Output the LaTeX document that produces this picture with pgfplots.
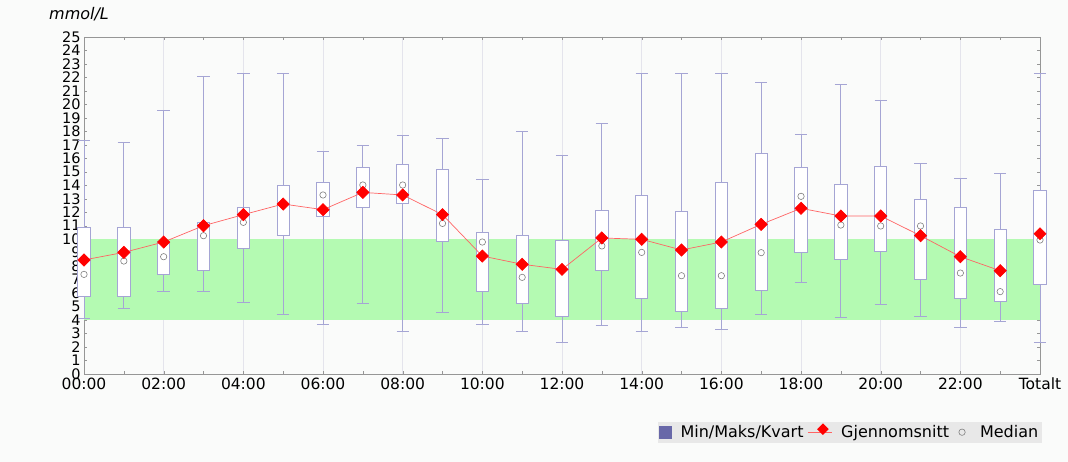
\documentclass[border=0pt]{standalone}
\usepackage{fontspec}
\setmainfont{DejaVu Sans}[ItalicFont={DejaVu Sans Oblique}]
\usepackage{pgfplots}
\pgfplotsset{compat=1.18}
\usepgfplotslibrary{statistics}
\definecolor{boxc}{RGB}{165,165,212}
\definecolor{legsq}{RGB}{104,104,168}
\definecolor{band}{RGB}{180,250,178}
\definecolor{bg}{RGB}{250,251,250}
\definecolor{legbg}{RGB}{232,232,232}
\definecolor{gridc}{RGB}{228,228,236}
\definecolor{axc}{RGB}{150,150,150}
\definecolor{meanline}{RGB}{255,100,100}

\pgfplotstableread{
h mean med
0 8.46 7.39
1 9.02 8.38
2 9.79 8.70
3 11.00 10.26
4 11.82 11.25
5 12.61 12.51
6 12.19 13.28
7 13.47 14.02
8 13.28 14.02
9 11.82 11.17
10 8.75 9.79
11 8.14 7.17
12 7.76 7.80
13 10.09 9.50
14 9.99 9.02
15 9.20 7.29
16 9.79 7.29
17 11.10 9.00
18 12.29 13.18
19 11.72 11.05
20 11.72 10.98
21 10.26 10.98
22 8.70 7.49
23 7.66 6.11
}\hourly
\pgfplotstableread{
h mean med
24 10.41 9.94
}\total

\begin{document}
\begin{tikzpicture}[x=1bp,y=1bp]
\fill[bg] (0,0) rectangle (1068,462);
\node[anchor=base west, font=\fontsize{16bp}{16bp}\selectfont\itshape, inner sep=0] at (49,442) {mmol/L};
\begin{axis}[
  at={(84bp,88bp)}, anchor=south west,
  scale only axis, width=956bp, height=337bp,
  xmin=0, xmax=24, ymin=0, ymax=25,
  clip=false,
  axis line style={axc},
  xtick={0,2,...,24},
  xticklabels={00:00,02:00,04:00,06:00,08:00,10:00,12:00,14:00,16:00,18:00,20:00,22:00,Totalt},
  minor xtick={1,3,...,23},
  ytick={0,1,...,25},
  tick align=inside,
  major tick length=3bp, minor tick length=3bp,
  tick style={axc},
  xmajorgrids, major x grid style={gridc, line width=0.6bp},
  xticklabel style={font=\fontsize{15.5bp}{15.5bp}\selectfont},
  yticklabel style={font=\fontsize{14.5bp}{14.5bp}\selectfont},
  /pgf/number format/assume math mode=true,
  boxplot/draw direction=y,
  boxplot/box extend=0.31,
  boxplot/whisker extend=0.31,
  boxplot/every box/.style={draw=boxc, fill=white, line width=0.8bp},
  boxplot/every whisker/.style={draw=boxc, line width=0.9bp},
  boxplot/draw/median/.code={},
  legend style={at={(1.002,-0.1415)}, anchor=north east, fill=legbg, draw=none,
    font=\fontsize{16bp}{16bp}\selectfont, legend columns=3, inner sep=1.5bp,
    /tikz/every even column/.append style={column sep=2bp},
    /tikz/every odd column/.append style={column sep=7bp}},
  legend cell align=left,
]
\addlegendimage{legend image code/.code={\fill[legsq] (0bp,-6bp) rectangle (12bp,6bp);}}
\addlegendentry{Min/Maks/Kvart}
\addlegendimage{legend image code/.code={\draw[meanline, line width=0.7bp] (0bp,0bp) -- (24bp,0bp); \node[fill=red, minimum size=8.2bp, inner sep=0pt, rotate=45] at (12bp,0bp) {};}}
\addlegendentry{Gjennomsnitt}
\addlegendimage{legend image code/.code={\draw[gray, line width=0.6bp] (9bp,0bp) circle (3.2bp); \path[draw=none] (0bp,-1bp) rectangle (18bp,1bp);}}
\addlegendentry{Median}

% target band
\addplot[fill=band, draw=none, forget plot] coordinates {(0,4) (24,4) (24,10) (0,10)} -- cycle;

% box plots
\addplot[forget plot, boxplot prepared={draw position=0, lower whisker=4.10, lower quartile=5.73, median=7.39, upper quartile=10.85, upper whisker=17.30}] coordinates {};
\addplot[forget plot, boxplot prepared={draw position=1, lower whisker=4.85, lower quartile=5.79, median=8.38, upper quartile=10.85, upper whisker=17.19}] coordinates {};
\addplot[forget plot, boxplot prepared={draw position=2, lower whisker=6.11, lower quartile=7.39, median=8.70, upper quartile=9.85, upper whisker=19.58}] coordinates {};
\addplot[forget plot, boxplot prepared={draw position=3, lower whisker=6.11, lower quartile=7.72, median=10.26, upper quartile=11.25, upper whisker=22.06}] coordinates {};
\addplot[forget plot, boxplot prepared={draw position=4, lower whisker=5.29, lower quartile=9.30, median=11.25, upper quartile=12.34, upper whisker=22.26}] coordinates {};
\addplot[forget plot, boxplot prepared={draw position=5, lower whisker=4.40, lower quartile=10.29, median=12.51, upper quartile=14.02, upper whisker=22.26}] coordinates {};
\addplot[forget plot, boxplot prepared={draw position=6, lower whisker=3.71, lower quartile=11.67, median=13.28, upper quartile=14.22, upper whisker=16.49}] coordinates {};
\addplot[forget plot, boxplot prepared={draw position=7, lower whisker=5.22, lower quartile=12.36, median=14.02, upper quartile=15.31, upper whisker=16.99}] coordinates {};
\addplot[forget plot, boxplot prepared={draw position=8, lower whisker=3.14, lower quartile=12.66, median=14.02, upper quartile=15.53, upper whisker=17.68}] coordinates {};
\addplot[forget plot, boxplot prepared={draw position=9, lower whisker=4.60, lower quartile=9.82, median=11.17, upper quartile=15.21, upper whisker=17.50}] coordinates {};
\addplot[forget plot, boxplot prepared={draw position=10, lower whisker=3.64, lower quartile=6.11, median=9.79, upper quartile=10.49, upper whisker=14.42}] coordinates {};
\addplot[forget plot, boxplot prepared={draw position=11, lower whisker=3.14, lower quartile=5.22, median=7.17, upper quartile=10.27, upper whisker=17.98}] coordinates {};
\addplot[forget plot, boxplot prepared={draw position=12, lower whisker=2.33, lower quartile=4.25, median=7.80, upper quartile=9.94, upper whisker=16.20}] coordinates {};
\addplot[forget plot, boxplot prepared={draw position=13, lower whisker=3.61, lower quartile=7.72, median=9.50, upper quartile=12.14, upper whisker=18.57}] coordinates {};
\addplot[forget plot, boxplot prepared={draw position=14, lower whisker=3.14, lower quartile=5.61, median=9.02, upper quartile=13.23, upper whisker=22.26}] coordinates {};
\addplot[forget plot, boxplot prepared={draw position=15, lower whisker=3.44, lower quartile=4.62, median=7.29, upper quartile=12.04, upper whisker=22.26}] coordinates {};
\addplot[forget plot, boxplot prepared={draw position=16, lower whisker=3.34, lower quartile=4.85, median=7.29, upper quartile=14.22, upper whisker=22.26}] coordinates {};
\addplot[forget plot, boxplot prepared={draw position=17, lower whisker=4.40, lower quartile=6.23, median=9.00, upper quartile=16.39, upper whisker=21.66}] coordinates {};
\addplot[forget plot, boxplot prepared={draw position=18, lower whisker=6.80, lower quartile=9.00, median=13.18, upper quartile=15.31, upper whisker=17.78}] coordinates {};
\addplot[forget plot, boxplot prepared={draw position=19, lower whisker=4.23, lower quartile=8.48, median=11.05, upper quartile=14.05, upper whisker=21.46}] coordinates {};
\addplot[forget plot, boxplot prepared={draw position=20, lower whisker=5.19, lower quartile=9.10, median=10.98, upper quartile=15.43, upper whisker=20.28}] coordinates {};
\addplot[forget plot, boxplot prepared={draw position=21, lower whisker=4.30, lower quartile=7.02, median=10.98, upper quartile=12.93, upper whisker=15.60}] coordinates {};
\addplot[forget plot, boxplot prepared={draw position=22, lower whisker=3.44, lower quartile=5.61, median=7.49, upper quartile=12.34, upper whisker=14.51}] coordinates {};
\addplot[forget plot, boxplot prepared={draw position=23, lower whisker=3.91, lower quartile=5.42, median=6.11, upper quartile=10.76, upper whisker=14.84}] coordinates {};
\addplot[forget plot, boxplot prepared={draw position=24, lower whisker=2.33, lower quartile=6.68, median=9.94, upper quartile=13.62, upper whisker=22.26}] coordinates {};

% medians
\addplot[forget plot, only marks, mark=o, mark size=3.2bp, mark options={draw=gray, line width=0.6bp}] table[x=h, y=med] {\hourly};
\addplot[forget plot, only marks, mark=o, mark size=3.2bp, mark options={draw=gray, line width=0.6bp}] table[x=h, y=med] {\total};
% means
\addplot[forget plot, meanline, line width=0.7bp, mark=square*, mark options={rotate=45, fill=red, draw=red, solid}, mark size=4.3bp] table[x=h, y=mean] {\hourly};
\addplot[forget plot, only marks, mark=square*, mark options={rotate=45, fill=red, draw=red, solid}, mark size=4.3bp] table[x=h, y=mean] {\total};
\end{axis}
\end{tikzpicture}
\end{document}
